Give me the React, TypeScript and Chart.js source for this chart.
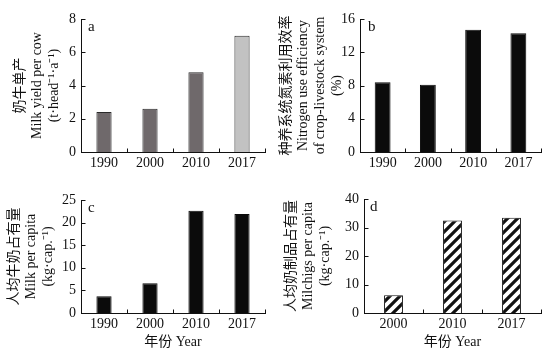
import React, { useEffect, useRef } from 'react';
import { Chart, registerables } from 'chart.js';

Chart.register(...registerables);

// ---- data ----
const yearsABC = ['1990', '2000', '2010', '2017'];
const yearsD = ['2000', '2010', '2017'];
const milkYield = [2.4, 2.6, 4.8, 7.0];
const nitrogenUseEff = [8.4, 8.1, 14.7, 14.3];
const milkPerCapita = [3.7, 6.6, 22.6, 21.9];
const milchigsPerCapita = [6.2, 32.5, 33.4];

const titleA = ['奶牛单产', 'Milk yield per cow', '(t·head⁻¹·a⁻¹)'];
const titleB = ['种养系统氮素利用效率', 'Nitrogen use efficiency', 'of crop-livestock system', '(%)'];
const titleC = ['人均牛奶占有量', 'Milk per capita', '(kg·cap.⁻¹)'];
const titleD = ['人均奶制品占有量', 'Milchigs per capita', '(kg·cap.⁻¹)'];
const xTitle = '年份 Year';

const FONT = '"Liberation Serif", "Times New Roman", "Noto Sans CJK SC", serif';
const INK = '#111111';

const decoPlugin = {
  id: 'deco',
  afterDraw(chart: any, _args: any, opts: any) {
    const { ctx, chartArea } = chart;
    const { left, top, bottom } = chartArea;
    const xs = chart.scales.x;
    const ys = chart.scales.y;
    ctx.save();
    ctx.strokeStyle = INK;
    ctx.lineWidth = 1;
    ctx.beginPath();
    const lx = Math.round(left) + 0.5;
    ys.ticks.forEach((t: any) => {
      const py = Math.round(ys.getPixelForValue(t.value)) + 0.5;
      ctx.moveTo(lx, py);
      ctx.lineTo(lx + 4, py);
    });
    const by = Math.round(bottom) + 0.5;
    const n = xs.ticks.length;
    for (let i = 0; i < n; i++) {
      const px = Math.round(xs.getPixelForValue(i + 0.5)) + 0.5;
      ctx.moveTo(px, by);
      ctx.lineTo(px, by - 4);
    }
    ctx.stroke();
    ctx.fillStyle = INK;
    ctx.font = `15px ${FONT}`;
    ctx.textBaseline = 'top';
    ctx.textAlign = 'left';
    ctx.fillText(opts.letter, left + opts.dx, top + 1);
    ctx.restore();
  },
};

type Panel = {
  labels: string[];
  data: number[];
  colors: any;
  borders: string;
  max: number;
  step: number;
  yTitle: string[];
  xTitle: boolean;
  letter: string;
  dx: number;
  yWidth: number;
  top: number;
  xHeight: number;
  barPct: number;
  titlePad: number;
};

function makeConfig(p: Panel): any {
  return {
    type: 'bar',
    data: {
      labels: p.labels,
      datasets: [
        {
          data: p.data,
          backgroundColor: p.colors,
          borderColor: p.borders,
          borderWidth: 1,
          barPercentage: p.barPct,
          categoryPercentage: 1,
        },
      ],
    },
    plugins: [decoPlugin],
    options: {
      responsive: false,
      animation: false,
      devicePixelRatio: 1,
      layout: { padding: { left: 0, right: 11, top: p.top, bottom: 0 } },
      plugins: {
        legend: { display: false },
        tooltip: { enabled: false },
        deco: { letter: p.letter, dx: p.dx },
      },
      scales: {
        x: {
          offset: true,
          grid: { display: false, drawTicks: false, offset: true },
          border: { display: true, color: INK, width: 1 },
          ticks: { color: INK, font: { family: FONT, size: 14 }, padding: 3, maxRotation: 0 },
          title: {
            display: p.xTitle,
            text: xTitle,
            color: INK,
            font: { family: FONT, size: 14 },
            padding: { top: 0, bottom: 9 },
          },
          afterFit: (s: any) => {
            s.height = p.xHeight;
          },
        },
        y: {
          min: 0,
          max: p.max,
          grid: { display: false, drawTicks: false },
          border: { display: true, color: INK, width: 1 },
          ticks: { stepSize: p.step, color: INK, font: { family: FONT, size: 14 }, padding: 5 },
          title: {
            display: true,
            text: p.yTitle,
            color: INK,
            font: { family: FONT, size: 14, lineHeight: 1.22 },
            padding: { top: p.titlePad, bottom: 0 },
          },
          afterFit: (s: any) => {
            s.width = p.yWidth;
          },
        },
      },
    },
  };
}

function makeHatch(): any {
  const c = document.createElement('canvas');
  c.width = 10;
  c.height = 10;
  const g = c.getContext('2d')!;
  g.fillStyle = '#ffffff';
  g.fillRect(0, 0, 10, 10);
  g.strokeStyle = '#111111';
  g.lineWidth = 3.2;
  g.beginPath();
  g.moveTo(-5, 5);
  g.lineTo(5, -5);
  g.moveTo(0, 10);
  g.lineTo(10, 0);
  g.moveTo(5, 15);
  g.lineTo(15, 5);
  g.stroke();
  return g.createPattern(c, 'repeat');
}

function PanelChart({ make, left, top }: { make: () => Panel; left: number; top: number }) {
  const ref = useRef<HTMLCanvasElement>(null);
  useEffect(() => {
    const chart = new Chart(ref.current!, makeConfig(make()));
    return () => chart.destroy();
  }, []);
  return (
    <canvas
      ref={ref}
      width={276}
      height={180}
      style={{ position: 'absolute', left, top, width: 276, height: 180 }}
    />
  );
}

export default function App() {
  const panelA = (): Panel => ({
    labels: yearsABC,
    data: milkYield,
    colors: ['#6f696b', '#6f696b', '#6f696b', '#c2c2c2'],
    borders: '#2a2a2a',
    max: 8,
    step: 2,
    yTitle: titleA,
    xTitle: false,
    letter: 'a',
    dx: 7,
    yWidth: 81,
    top: 19,
    xHeight: 28,
    barPct: 0.33,
    titlePad: 12,
  });
  const panelB = (): Panel => ({
    labels: yearsABC,
    data: nitrogenUseEff,
    colors: '#0b0b0b',
    borders: '#0b0b0b',
    max: 16,
    step: 4,
    yTitle: titleB,
    xTitle: false,
    letter: 'b',
    dx: 8,
    yWidth: 84,
    top: 19,
    xHeight: 28,
    barPct: 0.35,
    titlePad: 2,
  });
  const panelC = (): Panel => ({
    labels: yearsABC,
    data: milkPerCapita,
    colors: '#0b0b0b',
    borders: '#0b0b0b',
    max: 25,
    step: 5,
    yTitle: titleC,
    xTitle: true,
    letter: 'c',
    dx: 7,
    yWidth: 81,
    top: 20,
    xHeight: 47,
    barPct: 0.33,
    titlePad: 6,
  });
  const panelD = (): Panel => ({
    labels: yearsD,
    data: milchigsPerCapita,
    colors: makeHatch(),
    borders: '#111111',
    max: 40,
    step: 10,
    yTitle: titleD,
    xTitle: true,
    letter: 'd',
    dx: 6,
    yWidth: 88,
    top: 19,
    xHeight: 47,
    barPct: 0.32,
    titlePad: 7,
  });
  return (
    <div style={{ position: 'fixed', left: 0, top: 0, width: 552, height: 360, background: '#fff' }}>
      <PanelChart make={panelA} left={0} top={0} />
      <PanelChart make={panelB} left={276} top={0} />
      <PanelChart make={panelC} left={0} top={180} />
      <PanelChart make={panelD} left={276} top={180} />
    </div>
  );
}
